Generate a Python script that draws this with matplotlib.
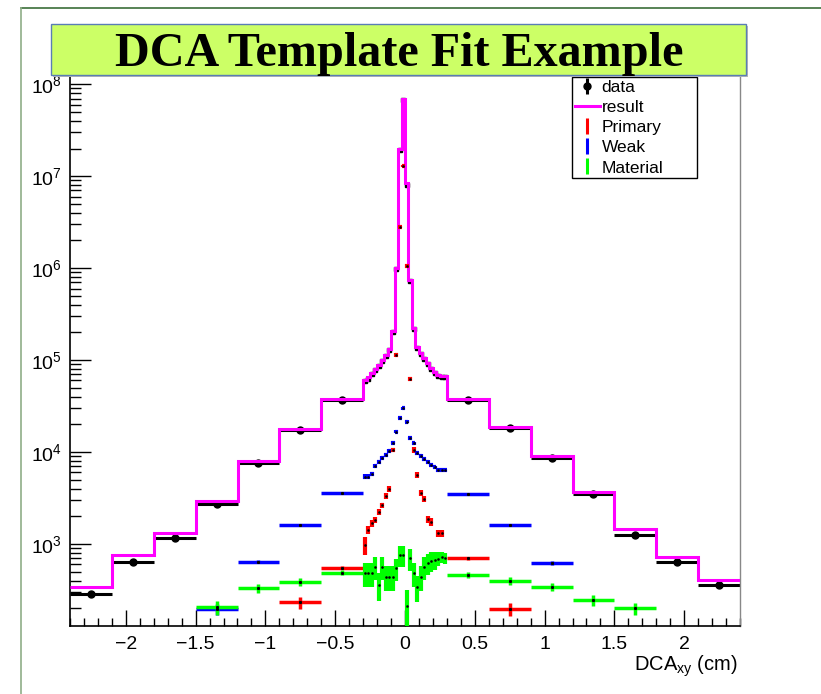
import numpy as np
import matplotlib
matplotlib.use("Agg")
import matplotlib.pyplot as plt
from matplotlib.lines import Line2D
from matplotlib.patches import Rectangle
from matplotlib.ticker import LogLocator, MultipleLocator, FuncFormatter, NullFormatter

plt.rcParams['font.family'] = ['Liberation Sans', 'DejaVu Sans']
plt.rcParams['mathtext.fontset'] = 'custom'
plt.rcParams['mathtext.rm'] = 'Liberation Sans'
plt.rcParams['mathtext.it'] = 'Liberation Sans:italic'
plt.rcParams['mathtext.default'] = 'regular'

nan = np.nan

# DCAxy bin edges (cm): 0.3 wide outside |x| < 0.3, 0.025 wide inside
edges = [-2.4, -2.1, -1.8, -1.5, -1.2, -0.9, -0.6, -0.3,
         -0.275, -0.25, -0.225, -0.2, -0.175, -0.15, -0.125, -0.1, -0.075, -0.05, -0.025, 0.0,
         0.025, 0.05, 0.075, 0.1, 0.125, 0.15, 0.175, 0.2, 0.225, 0.25, 0.275, 0.3,
         0.6, 0.9, 1.2, 1.5, 1.8, 2.1, 2.4]

# fit result (sum of templates)
result = [339, 760, 1306, 2950, 8000, 17800, 37700,
          60600, 65300, 72200, 79900, 88300, 100000, 113000, 132000, 207000, 1.0e6, 2.0e7, 7.0e7,
          8.4e6, 7.4e5, 2.23e5, 1.38e5, 1.19e5, 1.05e5, 9.3e4, 8.2e4, 7.4e4, 6.9e4, 6.7e4, 6.7e4,
          37700, 18700, 9060, 3670, 1445, 728, 409]

# measured data
data = [284, 643, 1170, 2700, 7620, 17300, 36700,
        58500, 63000, 70000, 77500, 85500, 97000, 110000, 128000, 200000, 9.7e5, 1.95e7, 6.8e7,
        8.1e6, 7.2e5, 2.16e5, 1.34e5, 1.15e5, 1.02e5, 9.0e4, 7.9e4, 7.2e4, 6.7e4, 6.5e4, 6.5e4,
        36700, 18200, 8600, 3490, 1253, 643, 358]

# templates
primary = [nan, nan, nan, nan, nan, 232, 553,
           975, 1420, 1680, 1820, 2240, 2650, 3300, 3960, 10500, 113000, 2.8e6, 1.3e7,
           1.05e6, 6.2e4, 1.05e4, 5600, 3600, 3100, 1850, 1750, nan, 1300, 1300, nan,
           700, 195, nan, nan, nan, nan, nan]
primary_err = [nan, nan, nan, nan, nan, 35, 20,
               215, 150, 150, 150, 170, 170, 250, 300, 600, 5000, 1e5, 3e5,
               5e4, 3000, 800, 400, 250, 250, 180, 170, nan, 120, 120, nan,
               25, 30, nan, nan, nan, nan, nan]

weak = [nan, nan, nan, 195, 643, 1610, 3600,
        5400, 5400, 5800, 7000, 7800, 8600, 9300, 10300, 12600, 16600, 23500, 29800,
        21300, 14100, 12400, 9700, 9000, 8400, 7800, 7300, 6800, 6400, 6300, 6300,
        3500, 1610, 627, nan, nan, nan, nan]
weak_err = [nan, nan, nan, 25, 30, 40, 60,
            300, 300, 300, 350, 350, 400, 400, 450, 500, 600, 800, 1000,
            800, 550, 500, 400, 400, 350, 350, 300, 300, 300, 300, 300,
            60, 40, 30, nan, nan, nan, nan]

material = [nan, nan, nan, 205, 330, 386, 487,
            484, 484, 484, 567, 358, 567, 441, 441, 441, 543, 760, 760,
            209, 700, 484, 343, 441, 563, 617, 650, 670, 690, 717, 700,
            460, 398, 344, 246, 200, nan, nan]
material_err = [nan, nan, nan, 35, 35, 40, 30,
                140, 140, 140, 160, 120, 160, 130, 130, 130, 150, 200, 200,
                107, 190, 140, 110, 130, 160, 160, 160, 150, 120, 100, 90,
                35, 40, 35, 35, 30, nan, nan]

edges_a = np.array(edges)
centers = (edges_a[:-1] + edges_a[1:]) / 2
halfw = (edges_a[1:] - edges_a[:-1]) / 2
fine = halfw < 0.1
data_a = np.array(data)

fig = plt.figure(figsize=(8.21, 6.94), dpi=100)
ax = fig.add_axes([70 / 821, 68 / 694, 670 / 821, 549 / 694])

# data: big markers in wide bins, small ones in the narrow central bins
ax.errorbar(centers[~fine], data_a[~fine], xerr=halfw[~fine], fmt='o', color='k', ms=5,
            elinewidth=2.2, capsize=0, zorder=2)
ax.errorbar(centers[fine], data_a[fine], xerr=halfw[fine], fmt='s', color='k', ms=2.5,
            elinewidth=2.2, capsize=0, zorder=2)
ax.stairs(result, edges, color='#ff00ff', lw=2.2, baseline=None, zorder=3)

for vals, errs, col in [(primary, primary_err, '#ff0000'),
                        (weak, weak_err, '#0000ff'),
                        (material, material_err, '#00ff00')]:
    v = np.array(vals)
    e = np.array(errs)
    ax.errorbar(centers[~fine], v[~fine], xerr=halfw[~fine], yerr=e[~fine], fmt='s', ms=1.2,
                mfc='k', mec='k', ecolor=col, elinewidth=2.5, capsize=0, zorder=4)
    ax.errorbar(centers[fine], v[fine], xerr=halfw[fine], yerr=e[fine], fmt='s', ms=0.8,
                mfc='k', mec='k', ecolor=col, elinewidth=3.0, capsize=0, zorder=4)

ax.set_yscale('log')
ax.set_ylim(128, 1.2e8)
ax.set_xlim(-2.4, 2.4)

ax.xaxis.set_major_locator(MultipleLocator(0.5))
ax.xaxis.set_minor_locator(MultipleLocator(0.1))
ax.xaxis.set_major_formatter(FuncFormatter(lambda v, p: f'{v:g}'.replace('-', '\u2212')))
ax.yaxis.set_major_locator(LogLocator(base=10, numticks=20))
ax.yaxis.set_minor_locator(LogLocator(base=10, subs=range(2, 10), numticks=20))
ax.yaxis.set_minor_formatter(NullFormatter())

ax.tick_params(which='both', direction='in', top=False, right=False, width=1, labelsize=14)
ax.tick_params(axis='y', which='major', length=15, pad=6)
ax.tick_params(axis='y', which='minor', length=8)
ax.tick_params(axis='x', which='major', length=11.5, pad=7)
ax.tick_params(axis='x', which='minor', length=5.5)

ax.spines['top'].set_visible(False)
ax.spines['right'].set_color('#888888')
ax.spines['right'].set_linewidth(1)
ax.spines['left'].set_linewidth(1.2)
ax.spines['bottom'].set_linewidth(1.2)

# legend
handles = [
    (Line2D([], [], color='k', marker='|', ms=11, mew=2.2, ls=''),
     Line2D([], [], color='k', marker='o', ms=5, ls='')),
    Line2D([], [], color='#ff00ff', lw=2.2),
    Line2D([], [], color='#ff0000', marker='|', ms=11, mew=2.2, ls=''),
    Line2D([], [], color='#0000ff', marker='|', ms=11, mew=2.2, ls=''),
    Line2D([], [], color='#00ff00', marker='|', ms=11, mew=2.2, ls=''),
]
labels = ['data', 'result', 'Primary', 'Weak', 'Material']
leg = ax.legend(handles, labels, loc='upper left', bbox_to_anchor=(0.7493, 0.814, 0.187, 0.186),
                mode='expand', borderaxespad=0, fontsize=12.5, fancybox=False, edgecolor='k',
                framealpha=1, handlelength=1.45, handletextpad=0.1, labelspacing=0.29,
                borderpad=0.15)
leg.get_frame().set_linewidth(1.0)

fig.text(738 / 821, 1 - 666 / 694, 'DCA$_{xy}$ (cm)', ha='right', va='center', fontsize=14.5)

# slide frame lines
fig.add_artist(Line2D([21 / 821, 1], [1 - 8 / 694, 1 - 8 / 694], color='#3b6e38', lw=1.2))
fig.add_artist(Line2D([21 / 821, 21 / 821], [0, 1 - 8 / 694], color='#8fae88', lw=1.2))

# title box
fig.add_artist(Rectangle((53 / 821, 1 - 77 / 694), 695 / 821, 51 / 694, facecolor='#b8b8b8',
                         edgecolor='none', zorder=5))
fig.add_artist(Rectangle((51 / 821, 1 - 75 / 694), 695 / 821, 51 / 694, facecolor='#ccff66',
                         edgecolor='#5a7db5', lw=1, zorder=6))
fig.text(399 / 821, 1 - 66 / 694, 'DCA Template Fit Example', ha='center', va='baseline',
         fontsize=34.7, fontweight='bold', family='Liberation Serif', zorder=7)

fig.savefig('out.png', dpi=100)
